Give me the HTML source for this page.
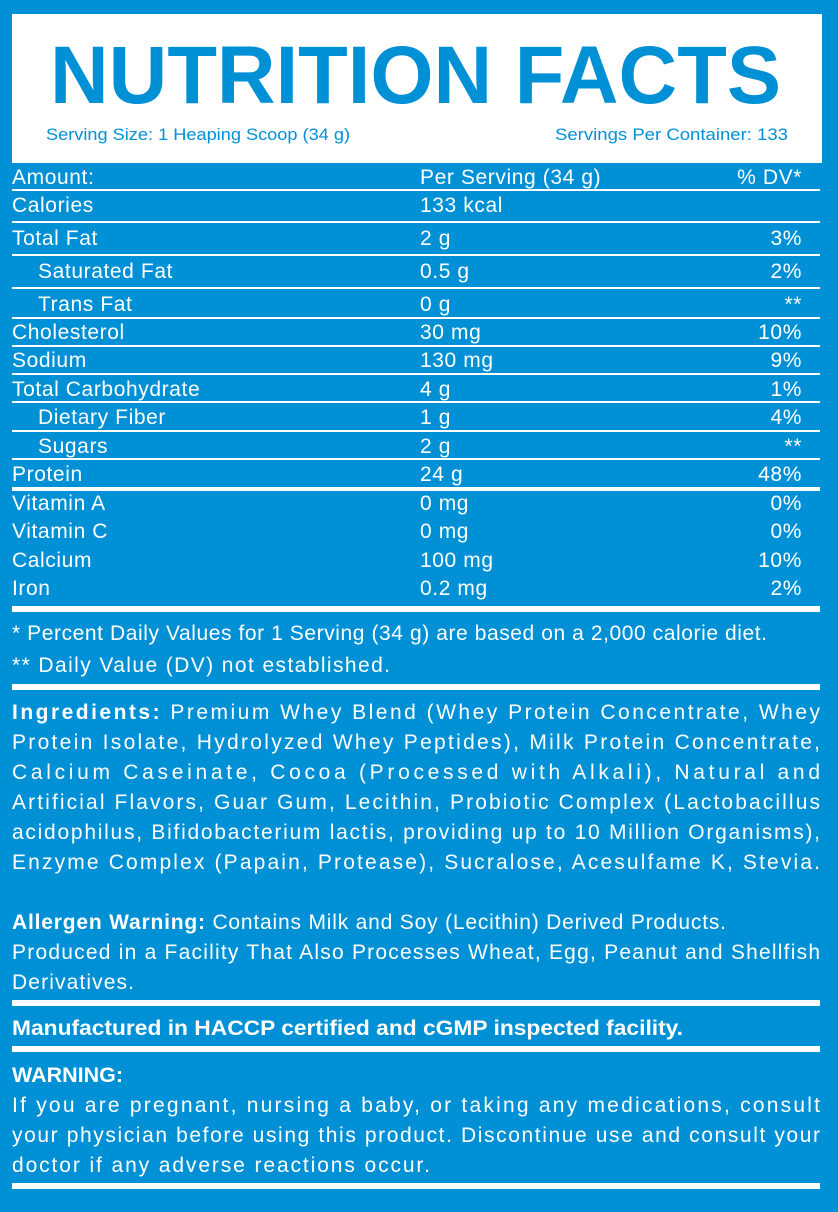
<!DOCTYPE html>
<html><head><meta charset="utf-8"><style>
html,body{margin:0;padding:0;background:#0090d5;}
svg{display:block}
text{font-family:"Liberation Sans",sans-serif;fill:#fff}
.r{font-size:21px;letter-spacing:0.6px}
.p{font-size:21px}
</style></head><body>
<svg width="838" height="1212" viewBox="0 0 838 1212" xmlns="http://www.w3.org/2000/svg">
<rect width="838" height="1212" fill="#0090d5"/>
<rect x="12" y="14" width="810" height="149" fill="#fff"/>
<text x="50" y="103" textLength="731" lengthAdjust="spacingAndGlyphs" style="font-size:82px;font-weight:bold;fill:#0090d5">NUTRITION FACTS</text>
<text x="46" y="140" textLength="304" lengthAdjust="spacingAndGlyphs" style="font-size:17px;fill:#0090d5">Serving Size: 1 Heaping Scoop (34 g)</text>
<text x="555" y="140" textLength="233" lengthAdjust="spacingAndGlyphs" style="font-size:17px;fill:#0090d5">Servings Per Container: 133</text>
<g fill="#fff">
<rect x="12" y="189" width="808" height="2"/>
<rect x="12" y="221" width="808" height="2"/>
<rect x="12" y="254" width="808" height="2"/>
<rect x="12" y="287" width="808" height="2"/>
<rect x="12" y="317" width="808" height="2"/>
<rect x="12" y="345" width="808" height="2"/>
<rect x="12" y="373" width="808" height="2"/>
<rect x="12" y="401" width="808" height="2"/>
<rect x="12" y="430" width="808" height="2"/>
<rect x="12" y="458" width="808" height="2"/>
<rect x="12" y="487" width="808" height="4"/>
<rect x="12" y="606" width="808" height="6"/>
<rect x="12" y="684" width="808" height="6"/>
<rect x="12" y="1000" width="808" height="6"/>
<rect x="12" y="1046" width="808" height="6"/>
<rect x="12" y="1183" width="808" height="6"/>
</g>
<g class="r">
<text x="12" y="184">Amount:</text><text x="420" y="184">Per Serving (34 g)</text><text x="802" y="184" text-anchor="end">% DV*</text>
<text x="12" y="212">Calories</text><text x="420" y="212">133 kcal</text>
<text x="12" y="245">Total Fat</text><text x="420" y="245">2 g</text><text x="802" y="245" text-anchor="end">3%</text>
<text x="38" y="278">Saturated Fat</text><text x="420" y="278">0.5 g</text><text x="802" y="278" text-anchor="end">2%</text>
<text x="38" y="311">Trans Fat</text><text x="420" y="311">0 g</text><text x="802" y="311" text-anchor="end">**</text>
<text x="12" y="339">Cholesterol</text><text x="420" y="339">30 mg</text><text x="802" y="339" text-anchor="end">10%</text>
<text x="12" y="367">Sodium</text><text x="420" y="367">130 mg</text><text x="802" y="367" text-anchor="end">9%</text>
<text x="12" y="396">Total Carbohydrate</text><text x="420" y="396">4 g</text><text x="802" y="396" text-anchor="end">1%</text>
<text x="38" y="424">Dietary Fiber</text><text x="420" y="424">1 g</text><text x="802" y="424" text-anchor="end">4%</text>
<text x="38" y="453">Sugars</text><text x="420" y="453">2 g</text><text x="802" y="453" text-anchor="end">**</text>
<text x="12" y="481">Protein</text><text x="420" y="481">24 g</text><text x="802" y="481" text-anchor="end">48%</text>
<text x="12" y="510">Vitamin A</text><text x="420" y="510">0 mg</text><text x="802" y="510" text-anchor="end">0%</text>
<text x="12" y="538">Vitamin C</text><text x="420" y="538">0 mg</text><text x="802" y="538" text-anchor="end">0%</text>
<text x="12" y="567">Calcium</text><text x="420" y="567">100 mg</text><text x="802" y="567" text-anchor="end">10%</text>
<text x="12" y="595">Iron</text><text x="420" y="595">0.2 mg</text><text x="802" y="595" text-anchor="end">2%</text>
</g>
<g class="p">
<text x="12" y="640" textLength="755" lengthAdjust="spacing">* Percent Daily Values for 1 Serving (34 g) are based on a 2,000 calorie diet.</text>
<text x="12" y="672" textLength="378" lengthAdjust="spacing">** Daily Value (DV) not established.</text>
<text x="12" y="719" textLength="808" lengthAdjust="spacing"><tspan font-weight="bold">Ingredients:</tspan> Premium Whey Blend (Whey Protein Concentrate, Whey</text>
<text x="12" y="749" textLength="808" lengthAdjust="spacing">Protein Isolate, Hydrolyzed Whey Peptides), Milk Protein Concentrate,</text>
<text x="12" y="779" textLength="808" lengthAdjust="spacing">Calcium Caseinate, Cocoa (Processed with Alkali), Natural and</text>
<text x="12" y="809" textLength="808" lengthAdjust="spacing">Artificial Flavors, Guar Gum, Lecithin, Probiotic Complex (Lactobacillus</text>
<text x="12" y="839" textLength="808" lengthAdjust="spacing">acidophilus, Bifidobacterium lactis, providing up to 10 Million Organisms),</text>
<text x="12" y="869" textLength="808" lengthAdjust="spacing">Enzyme Complex (Papain, Protease), Sucralose, Acesulfame K, Stevia.</text>
<text x="12" y="929" textLength="714" lengthAdjust="spacing"><tspan font-weight="bold">Allergen Warning:</tspan> Contains Milk and Soy (Lecithin) Derived Products.</text>
<text x="12" y="959" textLength="808" lengthAdjust="spacing">Produced in a Facility That Also Processes Wheat, Egg, Peanut and Shellfish</text>
<text x="12" y="989" textLength="122" lengthAdjust="spacing">Derivatives.</text>
<text x="12" y="1035" textLength="671" lengthAdjust="spacingAndGlyphs" font-weight="bold">Manufactured in HACCP certified and cGMP inspected facility.</text>
<text x="12" y="1082" textLength="111" lengthAdjust="spacingAndGlyphs" font-weight="bold">WARNING:</text>
<text x="12" y="1112" textLength="808" lengthAdjust="spacing">If you are pregnant, nursing a baby, or taking any medications, consult</text>
<text x="12" y="1142" textLength="808" lengthAdjust="spacing">your physician before using this product. Discontinue use and consult your</text>
<text x="12" y="1172" textLength="418" lengthAdjust="spacing">doctor if any adverse reactions occur.</text>
</g>
</svg>
</body></html>
